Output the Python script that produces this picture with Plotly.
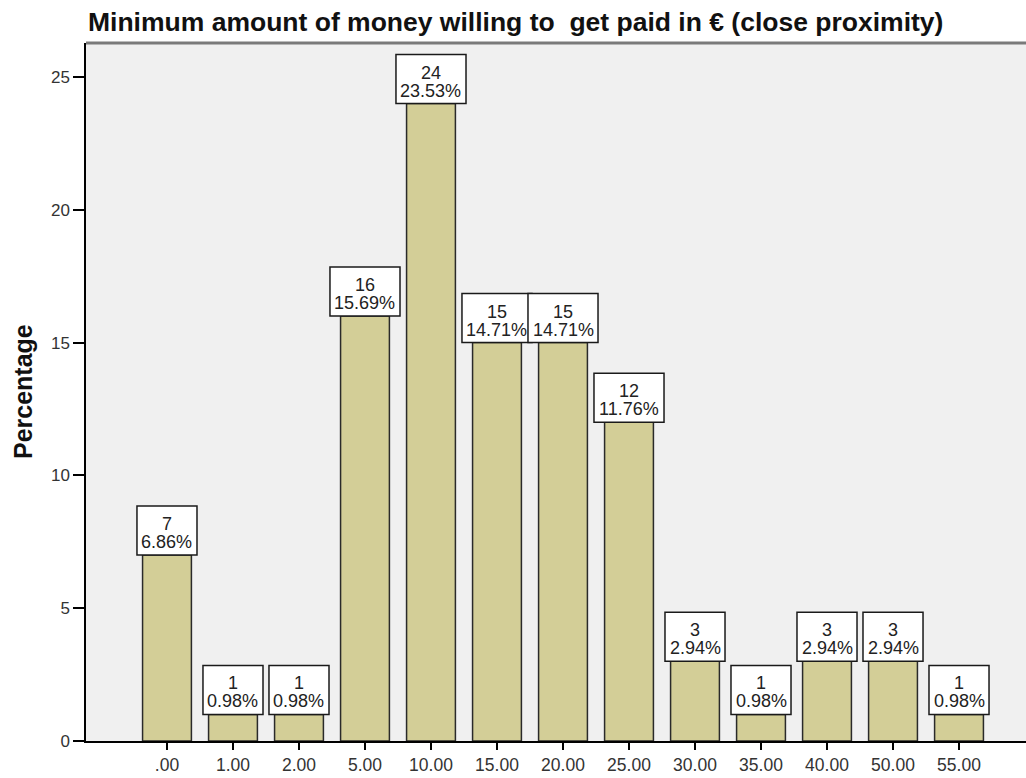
import plotly.graph_objects as go

# Amount categories (€) with response counts and their stated percentages
categories = [".00", "1.00", "2.00", "5.00", "10.00", "15.00", "20.00",
              "25.00", "30.00", "35.00", "40.00", "50.00", "55.00"]
counts = [7, 1, 1, 16, 24, 15, 15, 12, 3, 1, 3, 3, 1]
percent_labels = ["6.86%", "0.98%", "0.98%", "15.69%", "23.53%", "14.71%", "14.71%",
                  "11.76%", "2.94%", "0.98%", "2.94%", "2.94%", "0.98%"]
y_ticks = [0, 5, 10, 15, 20, 25]

FONT = "Arial, Liberation Sans, sans-serif"
BAR_FILL = "#D3CE97"
EDGE = "#2a2a2a"
LABEL_SIZE = 18

# approximate Arial advance widths (em) for sizing the label boxes
CHAR_W = {".": 0.278, "%": 0.889}


def text_px(s, size):
    return sum(CHAR_W.get(c, 0.556) for c in s) * size


# one slot per category on a linear axis, labelled with the category text
positions = list(range(len(categories)))

fig = go.Figure()

fig.add_trace(go.Bar(
    x=positions,
    y=counts,
    width=0.74,
    marker=dict(color=BAR_FILL, line=dict(color=EDGE, width=1.5)),
    hoverinfo="skip",
))

shapes = []
annotations = []
for pos, n, pct in zip(positions, counts, percent_labels):
    w = max(text_px(pct, LABEL_SIZE), text_px(str(n), LABEL_SIZE)) + 9
    # white label box sitting on top of the bar
    shapes.append(dict(
        type="rect", layer="above",
        xref="x", xsizemode="pixel", xanchor=pos, x0=-w / 2, x1=w / 2,
        yref="y", ysizemode="pixel", yanchor=n, y0=0, y1=49,
        fillcolor="white", line=dict(color="#1a1a1a", width=1.5),
    ))
    annotations.append(dict(
        x=pos, y=n, xref="x", yref="y", text=str(n), showarrow=False,
        yanchor="middle", yshift=31, font=dict(family=FONT, size=LABEL_SIZE, color="#222"),
    ))
    annotations.append(dict(
        x=pos, y=n, xref="x", yref="y", text=pct, showarrow=False,
        yanchor="middle", yshift=13, font=dict(family=FONT, size=LABEL_SIZE, color="#222"),
    ))

# gray frame line along the top of the plot area
shapes.append(dict(
    type="line", xref="paper", yref="paper", x0=0, x1=1, y0=1, y1=1,
    line=dict(color="#7a7a7a", width=3), layer="above",
))

# vertical axis title
annotations.append(dict(
    x=-0.067, y=0.5, xref="paper", yref="paper", text="<b>Percentage</b>",
    textangle=-90, showarrow=False, xanchor="center", yanchor="middle",
    font=dict(family=FONT, size=25, color="#111"),
))

fig.update_layout(
    width=1026, height=778,
    margin=dict(l=86, r=0, t=43, b=37),
    paper_bgcolor="white",
    plot_bgcolor="#F0F0F0",
    showlegend=False,
    title=dict(
        text="<b>Minimum amount of money willing to  get paid in € (close proximity)</b>",
        xref="container", yref="container", x=88 / 1026, xanchor="left",
        y=1 - 22 / 778, yanchor="middle",
        font=dict(family=FONT, size=26.5, color="#111"),
    ),
    shapes=shapes,
    annotations=annotations,
    xaxis=dict(
        range=[-1.227, 13.015],
        tickvals=positions,
        ticktext=categories,
        showgrid=False, zeroline=False,
        showline=True, linecolor="black", linewidth=1.5,
        ticks="outside", ticklen=7, tickwidth=1.5, tickcolor="black",
        tickfont=dict(family=FONT, size=17.5, color="#333"),
    ),
    yaxis=dict(
        range=[0, 26.28],
        tickvals=y_ticks,
        showgrid=False, zeroline=False,
        showline=True, linecolor="black", linewidth=1.5,
        ticks="outside", ticklen=11, tickwidth=1.5, tickcolor="black",
        tickfont=dict(family=FONT, size=17, color="#333"),
    ),
)

fig.write_html("out.html")
